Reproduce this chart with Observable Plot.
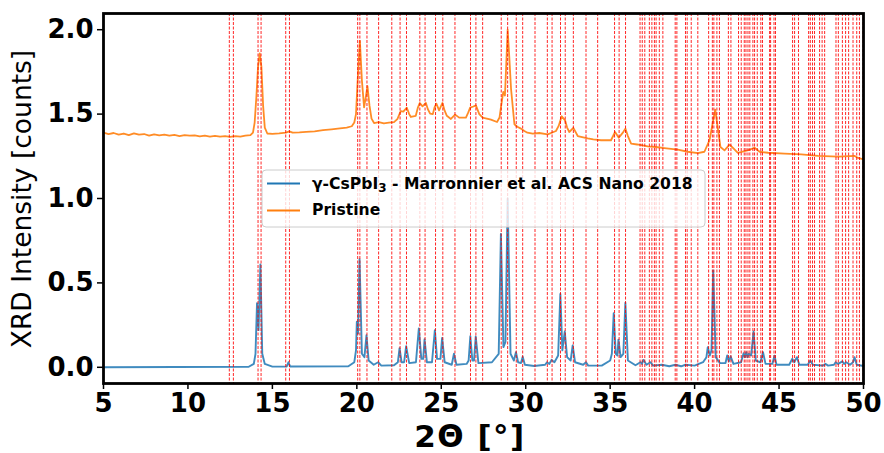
<!DOCTYPE html>
<html>
<head>
<meta charset="utf-8">
<script src="https://cdn.jsdelivr.net/npm/d3@7"></script>
<script src="https://cdn.jsdelivr.net/npm/@observablehq/plot@0.6"></script>
<style>
  html, body { margin: 0; padding: 0; background: white; }
  #chart svg { display: block; }
</style>
</head>
<body>
<div id="chart"></div>
<script>
// ---- Data ----
const xTicks = [5, 10, 15, 20, 25, 30, 35, 40, 45, 50];
const yTicks = [0, 0.5, 1.0, 1.5, 2.0];

// Simulated gamma-CsPbI3 pattern (2theta, intensity)
const refX = [5,13.6,13.9,14.0,14.09,14.18,14.29,14.4,14.55,15.0,15.85,15.95,16.05,19.5,19.85,19.95,20.0,20.07,20.16,20.3,20.45,20.57,20.7,21.0,21.26,21.45,22.2,22.43,22.53,22.65,22.8,22.92,23.1,23.5,23.67,23.82,23.93,24.01,24.15,24.45,24.62,24.75,24.95,25.05,25.2,25.62,25.75,25.9,26.5,26.62,26.72,26.84,26.94,27.04,27.2,28.0,28.4,28.53,28.68,28.8,28.93,29.1,29.3,29.42,29.55,29.72,29.82,29.95,30.5,31.15,31.26,31.4,31.53,31.7,31.92,32.05,32.17,32.31,32.45,32.66,32.78,32.92,33.4,33.57,33.7,34.5,35.0,35.1,35.21,35.33,35.43,35.49,35.62,35.78,35.9,36.05,36.5,36.79,36.88,36.97,37.15,37.38,37.55,38.06,38.5,38.87,39.2,39.46,40.0,40.5,40.7,40.78,40.9,41.0,41.1,41.25,41.5,41.83,41.93,42.03,42.13,42.3,42.75,42.9,42.98,43.06,43.14,43.21,43.35,43.49,43.62,43.9,44.05,44.2,44.6,44.73,44.85,45.6,45.78,45.9,46.06,46.2,46.7,46.85,47.0,47.6,47.76,47.9,48.25,48.35,48.5,48.75,48.85,48.98,49.2,49.38,49.47,49.6,50];
const refY = [0,0.003,0.02,0.08,0.38,0.22,0.61,0.08,0.02,0.004,0.005,0.03,0.005,0.006,0.03,0.1,0.27,0.2,0.64,0.08,0.06,0.19,0.04,0.015,0.03,0.01,0.012,0.03,0.113,0.03,0.03,0.125,0.025,0.03,0.23,0.05,0.05,0.166,0.03,0.03,0.22,0.05,0.05,0.174,0.03,0.015,0.08,0.015,0.02,0.04,0.184,0.04,0.04,0.182,0.025,0.03,0.08,0.79,0.12,0.15,1.0,0.08,0.04,0.09,0.03,0.025,0.063,0.015,0.008,0.015,0.03,0.02,0.044,0.03,0.07,0.435,0.1,0.212,0.06,0.04,0.13,0.03,0.015,0.03,0.01,0.01,0.04,0.08,0.32,0.08,0.07,0.164,0.06,0.08,0.382,0.04,0.012,0.03,0.02,0.044,0.015,0.03,0.01,0.015,0.006,0.015,0.006,0.015,0.01,0.03,0.06,0.119,0.07,0.1,0.574,0.06,0.025,0.025,0.07,0.035,0.065,0.02,0.03,0.083,0.06,0.09,0.06,0.08,0.07,0.212,0.04,0.03,0.089,0.02,0.02,0.069,0.015,0.015,0.05,0.03,0.06,0.015,0.015,0.04,0.015,0.01,0.02,0.01,0.015,0.03,0.02,0.035,0.02,0.03,0.015,0.03,0.06,0.015,0.008];

// Measured "Pristine" pattern (2theta, intensity, offset)
const priX = [5.0,5.3,5.6,5.9,6.2,6.5,6.8,7.1,7.4,7.7,8.0,8.3,8.6,8.9,9.2,9.5,9.8,10.1,10.4,10.7,11.0,11.3,11.6,11.9,12.2,12.5,12.8,13.1,13.4,13.7,13.85,13.95,14.05,14.15,14.25,14.35,14.45,14.55,14.7,15.0,15.4,15.8,16.0,16.2,16.6,17.0,17.5,18.0,18.5,19.0,19.4,19.7,19.85,19.95,20.05,20.18,20.3,20.43,20.53,20.63,20.75,20.87,21.02,21.3,21.6,21.9,22.2,22.4,22.6,22.75,22.96,23.1,23.2,23.49,23.62,23.73,23.89,24.09,24.2,24.34,24.5,24.6,24.71,24.87,25.07,25.2,25.33,25.57,25.82,26.06,26.46,26.6,26.71,26.9,27.05,27.25,27.45,27.94,28.3,28.45,28.53,28.67,28.77,28.85,28.93,29.02,29.13,29.33,29.5,29.72,29.92,30.1,30.41,30.8,31.3,31.79,31.95,32.13,32.33,32.45,32.58,32.82,33.08,33.67,34.0,34.46,35.05,35.29,35.51,35.75,35.9,36.05,36.24,36.6,37.23,37.7,38.21,39.0,39.6,40.19,40.58,40.88,41.04,41.22,41.37,41.53,41.77,42.07,42.27,42.56,42.96,43.3,43.55,43.85,44.34,45.33,46.32,47.31,48.49,49.48,49.68,50.0];
const priY = [1.39,1.382,1.388,1.378,1.385,1.376,1.386,1.378,1.382,1.372,1.38,1.374,1.379,1.372,1.377,1.37,1.376,1.372,1.374,1.368,1.373,1.367,1.371,1.366,1.37,1.365,1.37,1.366,1.372,1.375,1.39,1.45,1.6,1.78,1.86,1.78,1.55,1.42,1.385,1.383,1.386,1.39,1.398,1.39,1.392,1.395,1.398,1.405,1.41,1.416,1.42,1.428,1.45,1.5,1.7,1.934,1.7,1.54,1.6,1.665,1.55,1.473,1.447,1.452,1.445,1.45,1.452,1.47,1.518,1.515,1.538,1.5,1.483,1.49,1.54,1.566,1.546,1.566,1.53,1.503,1.5,1.54,1.562,1.522,1.566,1.52,1.49,1.471,1.497,1.479,1.479,1.51,1.538,1.545,1.552,1.5,1.479,1.467,1.453,1.48,1.538,1.631,1.61,1.8,2.0,1.85,1.65,1.44,1.425,1.414,1.4,1.39,1.384,1.388,1.38,1.4,1.43,1.487,1.463,1.42,1.394,1.418,1.37,1.356,1.35,1.345,1.345,1.394,1.36,1.39,1.414,1.37,1.325,1.32,1.309,1.305,1.299,1.289,1.277,1.269,1.277,1.345,1.43,1.527,1.42,1.305,1.285,1.319,1.3,1.27,1.28,1.29,1.301,1.277,1.271,1.266,1.262,1.252,1.248,1.252,1.24,1.232];

// Reflection positions marked with red dashed lines
const reflections = [12.45,12.69,14.15,14.33,15.79,16.01,20.05,20.18,20.6,21.29,22.07,22.56,22.94,23.73,24.04,24.66,25.09,25.81,26.73,27.05,27.45,28.55,28.93,29.44,29.82,30.55,31.28,31.56,32.06,32.34,32.82,33.57,34.26,35.26,35.53,35.91,36.77,36.9,37.05,37.32,37.47,37.62,37.72,37.91,38.12,38.85,38.95,39.46,39.56,39.8,40.19,40.83,41.05,41.14,41.32,41.47,42.0,42.15,42.6,42.76,42.94,43.04,43.16,43.27,43.45,43.55,43.71,43.92,44.02,44.44,44.5,44.7,44.79,45.8,45.92,46.15,46.75,46.85,46.98,47.1,47.4,47.55,47.7,48.37,48.51,48.75,48.94,49.12,49.38,49.6,49.76,49.97];

const seriesNames = ["γ-CsPbI₃ - Marronnier et al. ACS Nano 2018", "Pristine"];
const seriesColors = ["#1f77b4", "#ff7f0e"];

// ---- Build tables ----
const refData = refX.map((x, i) => ({x, y: refY[i]}));
const priData = priX.map((x, i) => ({x, y: priY[i]}));

const W = 884, H = 453;
const plot = Plot.plot({
  width: W, height: H,
  marginLeft: 103, marginRight: 21, marginTop: 13, marginBottom: 70,
  x: {domain: [5, 50]},
  y: {domain: [-0.096, 2.096]},
  style: {fontFamily: "DejaVu Sans", fontSize: "26px", fontWeight: "bold", background: "white", color: "black", overflow: "visible"},
  marks: [
    Plot.line(refData, {x: "x", y: "y", stroke: seriesColors[0], strokeWidth: 1.9, strokeOpacity: 0.85}),
    Plot.line(priData, {x: "x", y: "y", stroke: seriesColors[1], strokeWidth: 1.8, strokeOpacity: 0.9}),
    Plot.ruleX(reflections, {x: d => d, stroke: "red", strokeWidth: 1, strokeDasharray: "3,1.5", strokeOpacity: 0.85}),
    Plot.frame({stroke: "black", strokeWidth: 2.8}),
    Plot.axisX({ticks: xTicks, tickFormat: d => String(d), tickSize: 6, tickPadding: 4, label: null, strokeWidth: 1.5}),
    Plot.axisY({ticks: yTicks, tickFormat: d3.format(".1f"), tickSize: 6, tickPadding: 4, label: null, strokeWidth: 1.5})
  ]
});

document.getElementById("chart").appendChild(plot);

const svg = d3.select(plot);

// Axis titles
svg.append("text")
  .attr("transform", `translate(23,${(13 + 383) / 2 + 1}) rotate(-90)`)
  .attr("text-anchor", "middle")
  .attr("dominant-baseline", "middle")
  .attr("font-family", "DejaVu Sans")
  .attr("font-weight", "normal")
  .attr("font-size", 26.5)
  .attr("fill", "black")
  .text("XRD Intensity [counts]");

svg.append("text")
  .attr("x", 470)
  .attr("y", 438)
  .attr("text-anchor", "middle")
  .attr("dominant-baseline", "middle")
  .attr("font-family", "DejaVu Sans")
  .attr("font-weight", "bold")
  .attr("font-size", 31)
  .attr("letter-spacing", 1.5)
  .attr("fill", "black")
  .text("2Θ [°]");

// Legend
const lg = svg.append("g").attr("font-family", "DejaVu Sans").attr("font-weight", "bold").attr("font-size", 15.6).attr("text-anchor", "start");
lg.append("rect")
  .attr("x", 262).attr("y", 170).attr("width", 443).attr("height", 57).attr("rx", 4)
  .attr("fill", "white").attr("fill-opacity", 0.8)
  .attr("stroke", "#cccccc").attr("stroke-width", 1);
const rows = [183.5, 210.5];
rows.forEach((yy, i) => {
  lg.append("line").attr("x1", 267).attr("x2", 300).attr("y1", yy).attr("y2", yy)
    .attr("stroke", seriesColors[i]).attr("stroke-width", 2);
});
const t0 = lg.append("text").attr("x", 312).attr("y", rows[0]).attr("dominant-baseline", "middle").attr("fill", "black");
t0.append("tspan").text("γ-CsPbI");
t0.append("tspan").attr("font-size", 12).attr("dy", 4).text("3");
t0.append("tspan").attr("dy", -4).text(" - Marronnier et al. ACS Nano 2018");
lg.append("text").attr("x", 312).attr("y", rows[1]).attr("dominant-baseline", "middle").attr("fill", "black").text(seriesNames[1]);
</script>
</body>
</html>
